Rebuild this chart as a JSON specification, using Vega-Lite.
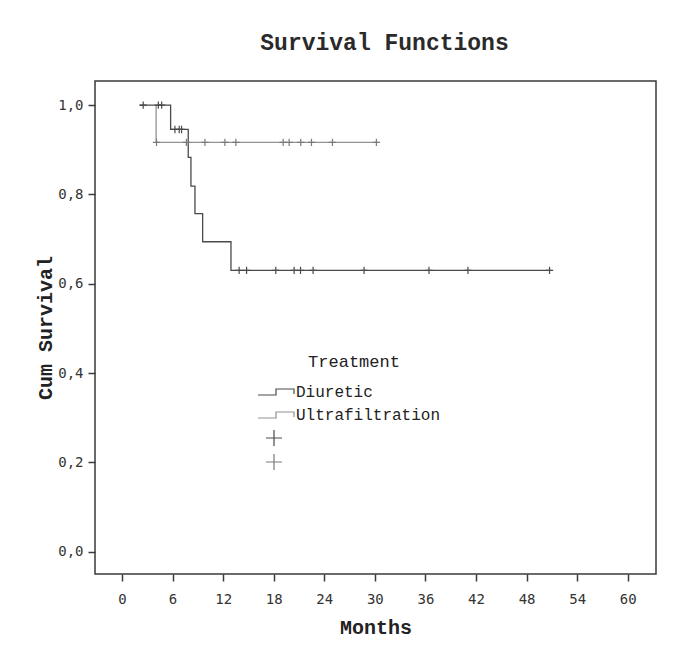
{
  "$schema": "https://vega.github.io/schema/vega-lite/v6.json",
  "width": 561,
  "height": 493,
  "autosize": "none",
  "padding": {"left": 95, "top": 81, "right": 26, "bottom": 72},
  "background": "white",
  "title": {
    "text": "Survival Functions",
    "font": "Liberation Mono",
    "fontSize": 23,
    "fontWeight": "bold",
    "color": "#2a2a2a",
    "anchor": "middle",
    "dx": 9,
    "offset": 26
  },
  "config": {
    "view": {"stroke": "#3a3a3a", "strokeWidth": 1.5},
    "axis": {
      "grid": false,
      "domain": false,
      "tickColor": "#3a3a3a",
      "tickWidth": 1.5,
      "tickSize": 7,
      "labelFont": "DejaVu Sans Mono",
      "labelFontSize": 14,
      "labelColor": "#333333",
      "titleFont": "Liberation Mono",
      "titleFontSize": 20,
      "titleFontWeight": "bold",
      "titleColor": "#222222"
    }
  },
  "datasets": {
    "curves": [
      {"Months": 2.1, "Survival": 1.0, "Treatment": "Diuretic"},
      {"Months": 5.77, "Survival": 0.9455, "Treatment": "Diuretic"},
      {"Months": 7.86, "Survival": 0.883, "Treatment": "Diuretic"},
      {"Months": 8.18, "Survival": 0.8186, "Treatment": "Diuretic"},
      {"Months": 8.66, "Survival": 0.757, "Treatment": "Diuretic"},
      {"Months": 9.57, "Survival": 0.694, "Treatment": "Diuretic"},
      {"Months": 12.93, "Survival": 0.63, "Treatment": "Diuretic"},
      {"Months": 50.9, "Survival": 0.63, "Treatment": "Diuretic"},
      {"Months": 4.05, "Survival": 1.0, "Treatment": "Ultrafiltration"},
      {"Months": 4.05, "Survival": 0.9165, "Treatment": "Ultrafiltration"},
      {"Months": 30.4, "Survival": 0.9165, "Treatment": "Ultrafiltration"}
    ],
    "censored": [
      {"Months": 2.52, "Survival": 1.0, "Group": "Diuretic"},
      {"Months": 4.31, "Survival": 1.0, "Group": "Diuretic"},
      {"Months": 4.71, "Survival": 1.0, "Group": "Diuretic"},
      {"Months": 6.28, "Survival": 0.9455, "Group": "Diuretic"},
      {"Months": 6.79, "Survival": 0.9455, "Group": "Diuretic"},
      {"Months": 7.07, "Survival": 0.9455, "Group": "Diuretic"},
      {"Months": 13.9, "Survival": 0.63, "Group": "Diuretic"},
      {"Months": 14.78, "Survival": 0.63, "Group": "Diuretic"},
      {"Months": 18.25, "Survival": 0.63, "Group": "Diuretic"},
      {"Months": 20.42, "Survival": 0.63, "Group": "Diuretic"},
      {"Months": 21.18, "Survival": 0.63, "Group": "Diuretic"},
      {"Months": 22.67, "Survival": 0.63, "Group": "Diuretic"},
      {"Months": 28.72, "Survival": 0.63, "Group": "Diuretic"},
      {"Months": 36.42, "Survival": 0.63, "Group": "Diuretic"},
      {"Months": 41.04, "Survival": 0.63, "Group": "Diuretic"},
      {"Months": 50.72, "Survival": 0.63, "Group": "Diuretic"},
      {"Months": 4.1, "Survival": 0.9165, "Group": "Ultrafiltration"},
      {"Months": 7.64, "Survival": 0.9165, "Group": "Ultrafiltration"},
      {"Months": 9.84, "Survival": 0.9165, "Group": "Ultrafiltration"},
      {"Months": 12.21, "Survival": 0.9165, "Group": "Ultrafiltration"},
      {"Months": 13.51, "Survival": 0.9165, "Group": "Ultrafiltration"},
      {"Months": 19.12, "Survival": 0.9165, "Group": "Ultrafiltration"},
      {"Months": 19.83, "Survival": 0.9165, "Group": "Ultrafiltration"},
      {"Months": 21.21, "Survival": 0.9165, "Group": "Ultrafiltration"},
      {"Months": 22.48, "Survival": 0.9165, "Group": "Ultrafiltration"},
      {"Months": 24.97, "Survival": 0.9165, "Group": "Ultrafiltration"},
      {"Months": 30.18, "Survival": 0.9165, "Group": "Ultrafiltration"}
    ]
  },
  "encoding": {
    "x": {
      "field": "Months",
      "type": "quantitative",
      "scale": {"domain": [-3.2, 63.35], "nice": false, "zero": false},
      "axis": {"values": [0, 6, 12, 18, 24, 30, 36, 42, 48, 54, 60], "title": "Months", "labelPadding": 11, "titlePadding": 11, "labelFlush": false}
    },
    "y": {
      "field": "Survival",
      "type": "quantitative",
      "scale": {"domain": [-0.05, 1.054], "nice": false, "zero": false},
      "axis": {"values": [0, 0.2, 0.4, 0.6, 0.8, 1.0], "format": ".1f", "labelExpr": "replace(datum.label, '.', ',')", "title": "Cum Survival", "labelPadding": 5, "titlePadding": 2, "labelFlush": false}
    }
  },
  "layer": [
    {
      "data": {"name": "curves"},
      "mark": {"type": "line", "interpolate": "step-after", "strokeWidth": 1.3},
      "encoding": {
        "color": {
          "field": "Treatment",
          "type": "nominal",
          "scale": {"domain": ["Diuretic", "Ultrafiltration"], "range": ["#4a4a4a", "#929292"]},
          "legend": {
            "orient": "none",
            "direction": "vertical",
            "legendX": 173,
            "legendY": 273,
            "title": "Treatment",
            "titleFont": "Liberation Mono",
            "titleFontSize": 17,
            "titleFontWeight": "normal",
            "titleColor": "#222222",
            "titleAnchor": "middle",
            "titlePadding": 13,
            "labelFont": "Liberation Mono",
            "labelFontSize": 16,
            "labelColor": "#222222",
            "labelOffset": 12,
            "symbolType": "M-2.57,0.43H0V-0.43H2.57V0.3",
            "symbolSize": 196,
            "symbolStrokeWidth": 1.2,
            "symbolFillColor": "transparent",
            "rowPadding": 7
          }
        }
      }
    },
    {
      "data": {"name": "censored"},
      "mark": {"type": "point", "shape": "M-1,0H1M0,-1V1", "filled": false, "size": 55, "strokeWidth": 1.2, "opacity": 1},
      "encoding": {
        "stroke": {
          "field": "Group",
          "type": "nominal",
          "scale": {"range": ["#4a4a4a", "#7a7a7a"]},
          "legend": {
            "orient": "none",
            "direction": "vertical",
            "legendX": 170,
            "legendY": 348,
            "title": null,
            "labelExpr": "''",
            "symbolType": "M-1,0H1M0,-1V1",
            "symbolSize": 256,
            "symbolStrokeWidth": 1.2,
            "rowPadding": 2
          }
        }
      }
    }
  ]
}
